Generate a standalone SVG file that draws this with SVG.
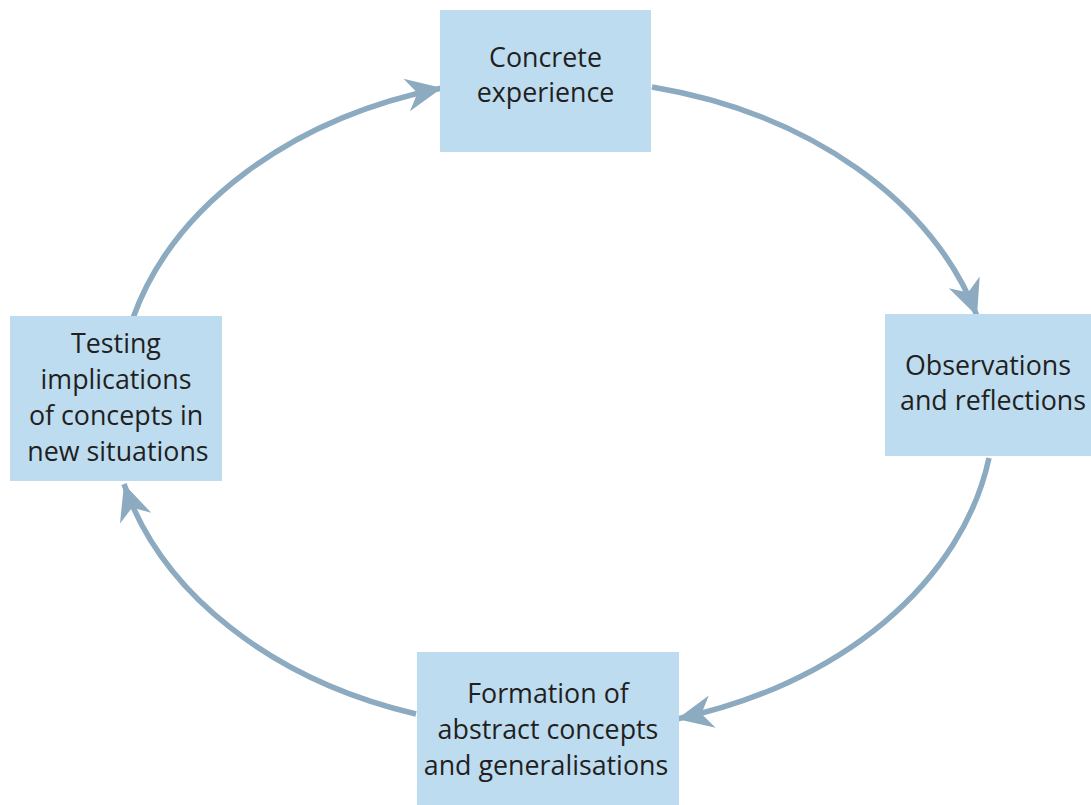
<svg xmlns="http://www.w3.org/2000/svg" width="1091" height="805" viewBox="0 0 1091 805">
  <style>
    .box { fill: #bddcf0; }
    .label { font-family: "Open Sans", "Noto Sans", "Liberation Sans", sans-serif; font-size: 26.8px; fill: #231f20; text-anchor: middle; }
    .flow { fill: none; stroke: #8cabc0; stroke-width: 5.5; marker-end: url(#head); }
  </style>
  <defs>
    <marker id="head" markerUnits="userSpaceOnUse" markerWidth="42" markerHeight="40" viewBox="-38 -20 42 40" refX="0" refY="0" orient="auto">
      <path d="M0,0 L-36,-16.5 L-25,0 L-36,16.5 Z" fill="#8cabc0"/>
    </marker>
  </defs>
  <rect width="1091" height="805" fill="#ffffff"/>

  <!-- cycle connectors -->
  <g id="connectors">
    <path class="flow" d="M133,318 A437,325 0 0 1 442,88"/>
    <path class="flow" d="M652,87 A437,325 0 0 1 977,316"/>
    <path class="flow" d="M989,458 A437,325 0 0 1 677,719"/>
    <path class="flow" d="M416,714 A437,325 0 0 1 124,484"/>
  </g>

  <g id="concrete-experience">
    <rect class="box" x="440" y="10" width="211" height="142"/>
    <text class="label" x="545.5" y="67">Concrete</text>
    <text class="label" x="545.5" y="102">experience</text>
  </g>

  <g id="observations-reflections">
    <rect class="box" x="885" y="314" width="206" height="142"/>
    <text class="label" x="988" y="375">Observations</text>
    <text class="label" x="993" y="410">and reflections</text>
  </g>

  <g id="abstract-concepts">
    <rect class="box" x="417" y="652" width="262" height="153"/>
    <text class="label" x="548" y="703">Formation of</text>
    <text class="label" x="548" y="739">abstract concepts</text>
    <text class="label" x="546" y="775">and generalisations</text>
  </g>

  <g id="testing-implications">
    <rect class="box" x="10" y="316" width="212" height="165"/>
    <text class="label" x="116" y="353">Testing</text>
    <text class="label" x="116" y="389">implications</text>
    <text class="label" x="116" y="425">of concepts in</text>
    <text class="label" x="118" y="461">new situations</text>
  </g>
</svg>
